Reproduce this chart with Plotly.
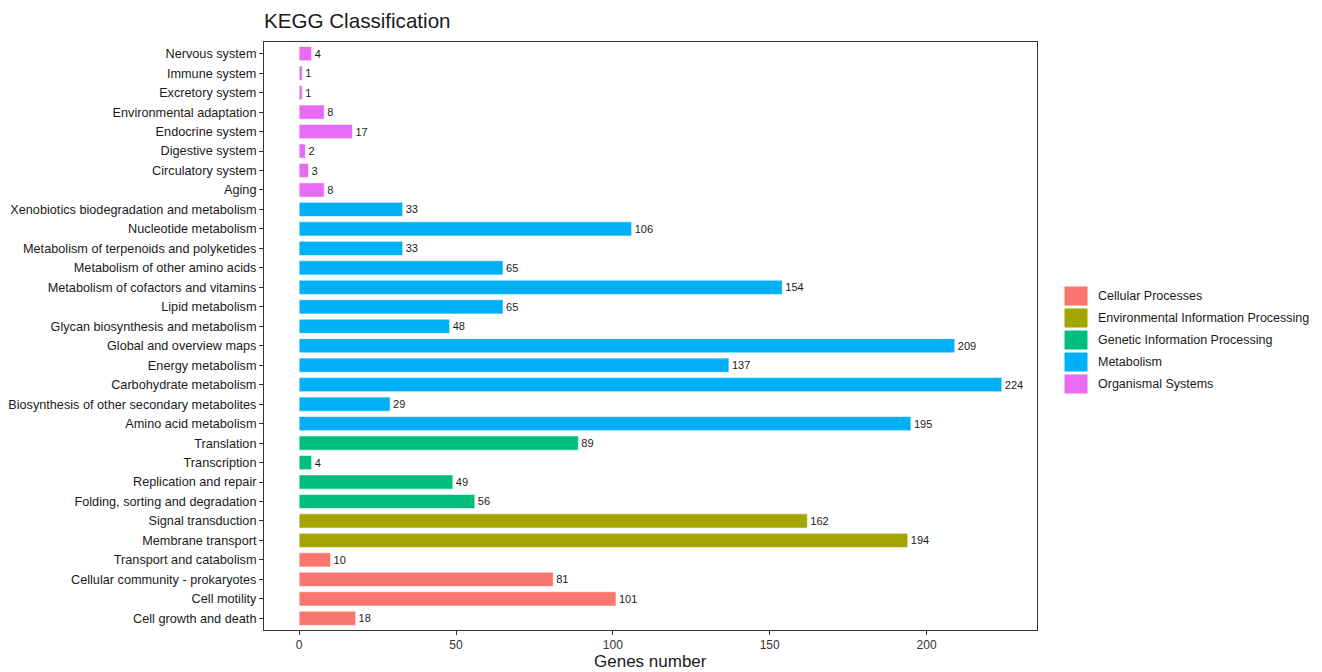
import plotly.graph_objects as go

# KEGG pathway categories (bottom to top) with gene counts and top-level class
pathways = [
    "Cell growth and death", "Cell motility", "Cellular community - prokaryotes",
    "Transport and catabolism", "Membrane transport", "Signal transduction",
    "Folding, sorting and degradation", "Replication and repair", "Transcription",
    "Translation", "Amino acid metabolism", "Biosynthesis of other secondary metabolites",
    "Carbohydrate metabolism", "Energy metabolism", "Global and overview maps",
    "Glycan biosynthesis and metabolism", "Lipid metabolism",
    "Metabolism of cofactors and vitamins", "Metabolism of other amino acids",
    "Metabolism of terpenoids and polyketides", "Nucleotide metabolism",
    "Xenobiotics biodegradation and metabolism", "Aging", "Circulatory system",
    "Digestive system", "Endocrine system", "Environmental adaptation",
    "Excretory system", "Immune system", "Nervous system",
]
gene_counts = [18, 101, 81, 10, 194, 162, 56, 49, 4, 89, 195, 29, 224, 137, 209,
               48, 65, 154, 65, 33, 106, 33, 8, 3, 2, 17, 8, 1, 1, 4]
pathway_class = (
    ["Cellular Processes"] * 4
    + ["Environmental Information Processing"] * 2
    + ["Genetic Information Processing"] * 4
    + ["Metabolism"] * 12
    + ["Organismal Systems"] * 8
)

classes = ["Cellular Processes", "Environmental Information Processing",
           "Genetic Information Processing", "Metabolism", "Organismal Systems"]
class_colors = ["#F8766D", "#A3A500", "#00BF7D", "#00B0F6", "#E76BF3"]

W, H = 1322, 672
PL, PR, PT, PB = 264, 1037, 42, 630  # plot area in pixels

FONT = "Liberation Sans, Arial, Helvetica, sans-serif"
TXT = "#1a1a1a"

fig = go.Figure()
for cls, col in zip(classes, class_colors):
    ys = [p for p, c in zip(pathways, pathway_class) if c == cls]
    xs = [v for v, c in zip(gene_counts, pathway_class) if c == cls]
    fig.add_trace(go.Bar(
        x=xs, y=ys, orientation="h", name=cls,
        marker=dict(color=col, line=dict(color="white", width=0.6)),
        text=[str(v) for v in xs], textposition="outside",
        textfont=dict(family=FONT, size=11, color=TXT),
        cliponaxis=False, constraintext="none",
        showlegend=False,
    ))

xmax = max(gene_counts)
pad = xmax * 0.05

fig.update_layout(
    width=W, height=H,
    margin=dict(l=PL, r=W - PR, t=PT, b=H - PB, pad=0, autoexpand=False),
    paper_bgcolor="white", plot_bgcolor="white",
    barmode="relative", bargap=0.27,
    font=dict(family=FONT, color=TXT),
    xaxis=dict(
        range=[-pad, xmax + pad], tickvals=[0, 50, 100, 150, 200],
        showgrid=False, zeroline=False, automargin=False,
        showline=True, mirror=True, linecolor="#333333", linewidth=1,
        ticks="outside", ticklen=4, tickcolor="#333333",
        tickfont=dict(family=FONT, size=12, color="#333333"),
    ),
    yaxis=dict(
        categoryorder="array", categoryarray=pathways,
        range=[-0.6, len(pathways) - 0.4],
        showgrid=False, zeroline=False, automargin=False,
        showline=True, mirror=True, linecolor="#333333", linewidth=1,
        ticks="outside", ticklen=4, tickcolor="#333333",
        tickfont=dict(family=FONT, size=12.7, color=TXT),
    ),
)


def px_x(p):
    return (p - PL) / (PR - PL)


def px_y(p):
    return (PB - p) / (PB - PT)


# Title and x-axis label
fig.add_annotation(text="KEGG Classification", xref="paper", yref="paper",
                   x=px_x(PL - 2), y=px_y(21), xanchor="left", yanchor="middle",
                   showarrow=False, font=dict(family=FONT, size=20.6, color=TXT))
fig.add_annotation(text="Genes number", xref="paper", yref="paper",
                   x=0.5, y=px_y(661), xanchor="center", yanchor="middle",
                   showarrow=False, font=dict(family=FONT, size=17, color=TXT))

# Legend with large colour keys
key_x0, key_x1 = 1064, 1088
key_top = 286
for i, (cls, col) in enumerate(zip(classes, class_colors)):
    y0 = key_top + i * 22
    fig.add_shape(type="rect", xref="paper", yref="paper",
                  x0=px_x(key_x0), x1=px_x(key_x1), y0=px_y(y0 + 20), y1=px_y(y0),
                  fillcolor=col, line=dict(color="white", width=1))
    fig.add_annotation(text=cls, xref="paper", yref="paper",
                       x=px_x(1096), y=px_y(y0 + 10), xanchor="left", yanchor="middle",
                       showarrow=False, font=dict(family=FONT, size=12.5, color=TXT))

fig.write_html("out.html")
